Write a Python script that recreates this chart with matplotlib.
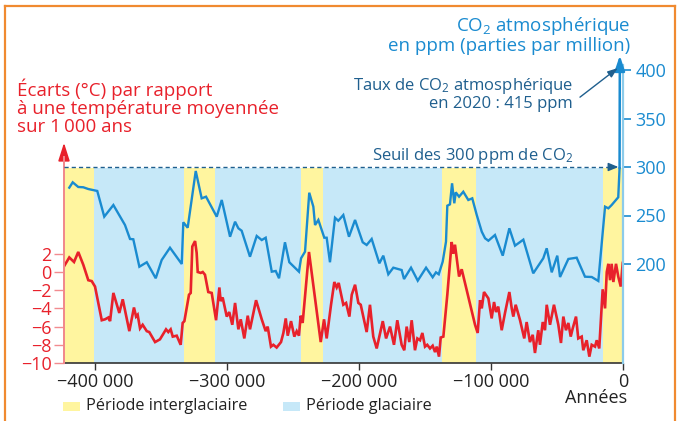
import matplotlib
matplotlib.use('Agg')
import matplotlib.pyplot as plt
from matplotlib.lines import Line2D
from matplotlib.patches import Rectangle

plt.rcParams['font.family'] = ['Open Sans', 'DejaVu Sans']
plt.rcParams['mathtext.fontset'] = 'custom'
plt.rcParams['mathtext.rm'] = 'Open Sans'
plt.rcParams['mathtext.it'] = 'Open Sans:italic'

# ---------------- data (years in thousands, negative = before present) -------------
co2_years = [-419.5, -416.9, -412.7, -408.9, -405.1, -398.3, -393.0, -386.1, -377.3, -373.5,
             -371.0, -366.4, -360.8, -354.0, -349.5, -343.2, -334.3, -333.1, -329.8, -323.7,
             -319.2, -315.9, -307.8, -304.0, -297.7, -293.9, -291.4, -288.9, -282.6, -277.5,
             -273.7, -270.7, -266.1, -263.1, -260.6, -256.1, -252.8, -245.5, -243.9, -240.9,
             -237.7, -234.6, -233.3, -230.8, -226.3, -224.5, -222.0, -218.2, -215.7, -211.9,
             -207.6, -203.0, -197.2, -194.2, -190.4, -184.6, -181.6, -177.8, -174.0, -167.7,
             -165.9, -160.6, -155.5, -149.2, -144.2, -141.7, -139.6, -136.6, -134.1, -133.1,
             -131.1, -129.5, -127.8, -126.7, -124.2, -121.0, -117.2, -114.2, -110.8, -107.0,
             -104.5, -102.0, -97.0, -91.1, -86.1, -81.8, -75.5, -68.0, -60.4, -57.8,
             -54.0, -49.8, -47.7, -41.4, -35.1, -28.8, -23.7, -18.7, -13.6, -11.1,
             -8.6, -3.6, -2.6, -2.4]
co2_ppm = [278.7, 284.2, 279.4, 279.1, 277.3, 275.3, 248.8, 260.8, 240.2, 225.8,
           225.5, 197.2, 201.8, 185.3, 204.1, 216.8, 200.0, 243.0, 237.4, 295.9,
           267.7, 269.4, 248.8, 266.0, 228.1, 243.6, 236.8, 234.3, 207.5, 228.9,
           224.7, 227.1, 192.1, 192.8, 185.3, 222.4, 201.8, 192.1, 205.9, 212.7,
           273.5, 259.1, 240.2, 245.4, 227.1, 227.1, 201.8, 247.7, 244.6, 250.5,
           228.1, 245.4, 222.4, 219.6, 225.8, 200.7, 208.6, 189.4, 196.2, 193.8,
           184.5, 196.2, 182.8, 196.2, 186.3, 191.4, 189.4, 202.4, 223.0, 260.1,
           261.5, 283.2, 262.6, 273.9, 269.4, 274.5, 266.0, 267.7, 250.5, 233.3,
           226.5, 224.0, 229.9, 208.6, 236.8, 218.9, 225.1, 190.4, 205.9, 216.2,
           191.4, 208.6, 186.6, 205.2, 206.5, 186.9, 186.6, 182.5, 259.1, 257.4,
           260.8, 268.8, 298.7, 415.0]

temp_years = [-424.0, -419.5, -415.9, -412.7, -408.9, -405.1, -402.5, -400.0, -394.9, -392.4,
              -389.9, -388.6, -386.1, -381.6, -379.0, -374.0, -370.5, -368.9, -367.7, -365.9,
              -363.9, -360.8, -358.9, -354.5, -350.8, -346.2, -344.5, -342.7, -341.1, -338.1,
              -335.1, -333.6, -332.3, -328.8, -327.5, -326.3, -324.2, -323.0, -322.2, -319.9,
              -318.4, -316.7, -314.2, -311.6, -308.3, -305.8, -304.8, -303.3, -300.2, -298.3,
              -296.0, -293.9, -291.4, -289.6, -286.9, -284.3, -282.6, -278.0, -273.7, -270.7,
              -269.2, -266.7, -264.9, -262.4, -259.1, -257.3, -255.5, -254.0, -251.5, -249.0,
              -247.2, -245.5, -244.2, -242.7, -237.9, -229.0, -226.5, -224.5, -221.2, -218.7,
              -216.9, -215.4, -211.9, -209.8, -207.3, -205.5, -203.0, -200.5, -198.7, -194.2,
              -191.7, -189.2, -186.6, -182.0, -179.5, -176.5, -173.5, -171.0, -167.7, -165.7,
              -163.9, -161.9, -160.1, -157.6, -155.8, -153.8, -152.0, -150.0, -148.3, -146.2,
              -144.2, -142.4, -141.1, -139.4, -138.1, -136.1, -133.1, -129.8, -128.6, -127.3,
              -124.2, -122.2, -112.1, -110.1, -108.3, -107.0, -105.3, -102.0, -99.5, -97.7,
              -96.2, -94.5, -91.9, -89.4, -86.1, -84.3, -83.1, -81.3, -78.0, -74.8,
              -73.0, -70.5, -68.4, -66.7, -64.2, -62.9, -60.8, -59.1, -57.8, -55.3,
              -52.3, -49.0, -47.0, -45.2, -43.2, -41.4, -39.6, -38.1, -35.6, -33.9,
              -31.3, -30.1, -27.5, -25.5, -23.7, -21.2, -19.9, -18.0, -15.4, -13.6,
              -12.3, -11.1, -9.8, -8.6, -7.3, -5.3, -3.6, -1.7, -0.2]
temp_dev = [0.5, 1.6, 1.1, 2.2, 0.8, -0.9, -1.0, -1.6, -5.3, -5.2,
            -5.0, -5.4, -2.3, -4.5, -3.0, -6.5, -3.9, -4.9, -4.7, -6.2,
            -5.8, -6.5, -6.6, -7.7, -7.4, -6.3, -6.6, -6.3, -7.1, -7.0,
            -8.0, -5.6, -5.4, -2.5, -2.3, 2.8, 3.4, 2.1, 0.0, -0.1,
            0.0, -0.3, -2.2, -2.3, -5.3, -1.7, -3.2, -2.8, -4.9, -4.4,
            -5.8, -3.4, -6.3, -5.2, -7.3, -4.8, -6.3, -3.1, -5.2, -6.5,
            -6.0, -8.2, -8.0, -8.3, -7.7, -6.7, -5.1, -7.0, -5.4, -7.1,
            -6.5, -7.0, -4.8, -5.6, 2.2, -7.7, -5.2, -7.3, -3.6, -1.1,
            -1.7, -1.2, -3.6, -3.4, -4.9, -2.5, -1.4, -3.4, -3.6, -6.6,
            -3.6, -7.1, -8.4, -5.4, -7.3, -6.0, -8.0, -5.3, -8.0, -8.6,
            -6.0, -7.7, -5.3, -8.6, -7.3, -7.5, -6.7, -8.2, -8.0, -8.4,
            -8.1, -8.8, -8.2, -9.3, -7.2, -7.1, -2.5, 3.3, 2.0, 3.0,
            -0.5, 0.3, -5.8, -6.7, -3.1, -4.0, -2.2, -2.9, -5.1, -3.3,
            -4.4, -3.8, -6.4, -4.5, -2.2, -4.0, -4.9, -3.6, -5.3, -7.3,
            -5.5, -7.7, -6.9, -8.9, -6.4, -8.0, -5.5, -6.4, -3.6, -5.8,
            -3.6, -5.8, -7.8, -4.9, -6.4, -5.6, -7.1, -6.2, -4.9, -7.3,
            -7.1, -8.6, -7.5, -9.3, -8.0, -8.2, -7.5, -8.4, -1.9, -4.0,
            0.0, 0.9, -0.9, 0.9, -1.1, 0.9, -0.5, -1.6, 1.0]

interglacial_periods = [(-423.5, -400.5), (-332.6, -309.1), (-243.9, -227.3),
                        (-137.1, -111.4), (-15.2, 0.0)]
glacial_periods = [(-400.5, -332.6), (-309.1, -243.9), (-227.3, -137.1), (-111.4, -15.2)]

x_ticks = [-400, -300, -200, -100, 0]
x_tick_labels = ['−400 000', '−300 000', '−200 000', '−100 000', '0']
temp_ticks = [2, 0, -2, -4, -6, -8, -10]
temp_tick_labels = ['2', '0', '−2', '−4', '−6', '−8', '−10']
co2_ticks = [200, 250, 300, 350, 400]
co2_threshold = 300

# ---------------- styling ----------------
RED = '#e8212b'
RED_LIGHT = '#f28b8f'
BLUE = '#1a8bd0'
BLUE_LIGHT = '#8ccbea'
DARKBLUE = '#1f5f8e'
YELLOW = '#fff59f'
GLACIAL = '#c6e8f8'
ORANGE = '#f08a30'
FS = 12

W, H = 678, 421
fig = plt.figure(figsize=(W / 100, H / 100), dpi=100)


def fx(px):
    return px / W


def fy(py):
    return 1 - py / H


XMIN, XMAX = -423.5, 0.0
# temperature axes (plot area)
ax = fig.add_axes([fx(64), fy(363), (623 - 64) / W, (363 - 168) / H])
ax.set_xlim(XMIN, XMAX)
ax.set_ylim(-10, (272 - 168) / 9.1)

for a, b in interglacial_periods:
    ax.axvspan(a, b, color=YELLOW, lw=0, zorder=0)
for a, b in glacial_periods:
    ax.axvspan(a, b, color=GLACIAL, lw=0, zorder=0)

ax.plot(temp_years, temp_dev, color=RED, lw=1.9, zorder=3, solid_joinstyle='miter')

for s in ['top', 'right', 'left']:
    ax.spines[s].set_visible(False)
ax.spines['bottom'].set_color('#333333')
ax.spines['bottom'].set_linewidth(1.2)
ax.set_xticks(x_ticks)
ax.set_xticklabels(x_tick_labels)
ax.tick_params(axis='x', direction='out', length=5, width=1.0, color='#333333',
               labelsize=FS + 1, labelcolor='#222222', pad=2)
ax.set_yticks(temp_ticks)
ax.set_yticklabels(temp_tick_labels)
ax.tick_params(axis='y', direction='out', length=7, width=1.0, color=RED_LIGHT,
               labelsize=FS + 1, labelcolor=RED, pad=2)

# left axis line with arrow
ax.annotate('', xy=(XMIN, 14.2), xytext=(XMIN, -10), xycoords='data',
            annotation_clip=False,
            arrowprops=dict(arrowstyle='-|>,head_length=1.1,head_width=0.35',
                            color=RED, lw=1.2, shrinkA=0, shrinkB=0))
ax.plot([XMIN, XMIN], [-10, 12.6], color=RED_LIGHT, lw=1.4, clip_on=False, zorder=4)

# CO2 axes (taller, same x scale)
top_px = 50
co2_bottom = 300 - (363 - 167) / 0.97
co2_top = 300 + (167 - top_px) / 0.97
ax2 = fig.add_axes([fx(64), fy(363), (623 - 64) / W, (363 - top_px) / H])
ax2.patch.set_visible(False)
ax2.set_xlim(XMIN, XMAX)
ax2.set_ylim(co2_bottom, co2_top)
for s in ['top', 'left', 'bottom', 'right']:
    ax2.spines[s].set_visible(False)
ax2.set_xticks([])
ax2.yaxis.tick_right()
ax2.set_yticks(co2_ticks)
ax2.set_yticklabels([str(v) for v in co2_ticks])
ax2.tick_params(axis='y', direction='out', length=6, width=1.2, color=BLUE,
                labelsize=FS + 1, labelcolor=BLUE, pad=3)
ax2.plot([XMAX, XMAX], [co2_bottom, 405], color=BLUE_LIGHT, lw=1.6, clip_on=False, zorder=2)

# threshold dashed line
ax2.plot([XMIN, -6.0], [co2_threshold, co2_threshold], color=DARKBLUE, lw=1.0,
         ls=(0, (3, 2.2)), zorder=3)
ax2.annotate('', xy=(-3.5, co2_threshold), xytext=(-8.0, co2_threshold),
             arrowprops=dict(arrowstyle='-|>,head_length=0.6,head_width=0.25',
                             color=DARKBLUE, lw=1.0, shrinkA=0, shrinkB=0))

# CO2 curve
ax2.plot(co2_years[:-1], co2_ppm[:-1], color=BLUE, lw=1.7, zorder=4, solid_joinstyle='miter')
ax2.annotate('', xy=(co2_years[-1], co2_ppm[-1]), xytext=(co2_years[-2], co2_ppm[-2]),
             annotation_clip=False,
             arrowprops=dict(arrowstyle='-|>,head_length=0.9,head_width=0.3',
                             color=BLUE, lw=1.8, shrinkA=0, shrinkB=0))

# 2020 annotation arrow
ax2.annotate('', xy=(-4.0, 402), xytext=(-32.6, 372),
             annotation_clip=False,
             arrowprops=dict(arrowstyle='-|>,head_length=0.6,head_width=0.22',
                             color=DARKBLUE, lw=1.0, shrinkA=0, shrinkB=0))

# ---------------- texts ----------------
TFS = 13.5
fig.text(fx(17), fy(79), 'Écarts (°C) par rapport\nà une température moyennée\nsur 1\u2009000 ans',
         color=RED, fontsize=TFS, ha='left', va='top', linespacing=1.0)

fig.text(fx(630), fy(15), 'CO$_\\mathregular{2}$ atmosphérique\nen ppm (parties par million)',
         color=BLUE, fontsize=TFS, ha='right', va='top', multialignment='right',
         linespacing=1.0)

fig.text(fx(573), fy(76), 'Taux de CO$_\\mathregular{2}$ atmosphérique\nen 2020 : 415 ppm',
         color=DARKBLUE, fontsize=FS, ha='right', va='top', multialignment='right',
         linespacing=1.0)
fig.text(fx(573), fy(156), 'Seuil des 300 ppm de CO$_\\mathregular{2}$', color=DARKBLUE,
         fontsize=FS, ha='right', va='center')

fig.text(fx(627), fy(398), 'Années', color='#222222', fontsize=FS + 1, ha='right', va='center')

# legend
fig.add_artist(Rectangle((fx(63), fy(411)), (80 - 63) / W, 9 / H, transform=fig.transFigure,
                         color=YELLOW, lw=0))
fig.text(fx(86), fy(406), 'Période interglaciaire', color='#222222', fontsize=FS - 0.3,
         ha='left', va='center')
fig.add_artist(Rectangle((fx(283), fy(411)), (300 - 283) / W, 9 / H, transform=fig.transFigure,
                         color=GLACIAL, lw=0))
fig.text(fx(306), fy(406), 'Période glaciaire', color='#222222', fontsize=FS - 0.3,
         ha='left', va='center')

# orange frame
for xs, ys in [([5, 5], [6, 425]), ([5, 675], [6, 6]), ([675, 675], [6, 425])]:
    fig.add_artist(Line2D([fx(v) for v in xs], [fy(v) for v in ys], transform=fig.transFigure,
                          color=ORANGE, lw=1.6))

fig.savefig('out.png', dpi=100)
